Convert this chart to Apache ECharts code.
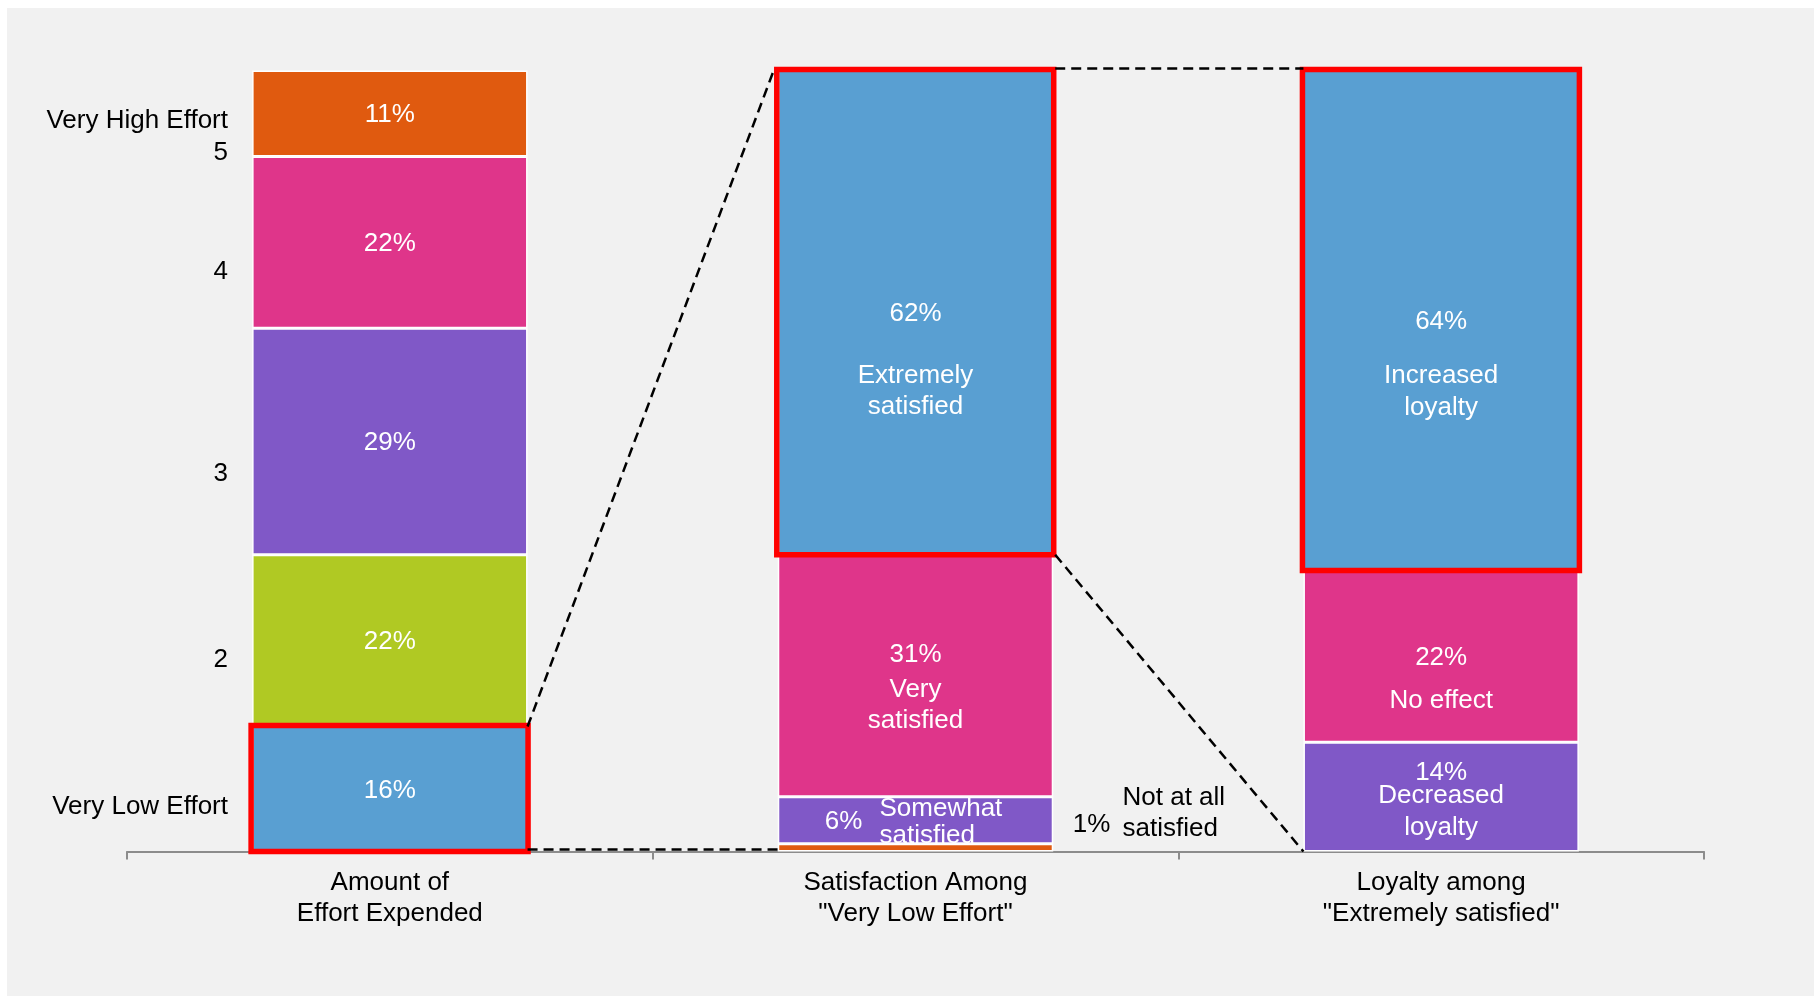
<!DOCTYPE html>
<html>
<head>
<meta charset="utf-8">
<script src="https://cdn.jsdelivr.net/npm/echarts@6/dist/echarts.min.js"></script>
<style>
  html, body { margin: 0; padding: 0; background: #ffffff; }
  #panel { position: absolute; left: 7px; top: 8px; right: 0; bottom: 0; background: #f1f1f1; }
  #chart { position: absolute; left: 0; top: 0; width: 1814px; height: 996px; }
</style>
</head>
<body>
<div id="panel"></div>
<div id="chart"></div>
<script>
// ---------- data ----------
const categories = ['Amount of\nEffort Expended', 'Satisfaction Among\n"Very Low Effort"', 'Loyalty among\n"Extremely satisfied"'];
// stacked bottom -> top
const effortValues = [16, 22, 29, 22, 11];          // Very Low Effort ... Very High Effort
const satisfactionValues = [1, 6, 31, 62];          // Not at all, Somewhat, Very, Extremely
const loyaltyValues = [14, 22, 64];                 // Decreased, No effect, Increased
const satisfactionNames = ['Not at all\nsatisfied', 'Somewhat\nsatisfied', 'Very\nsatisfied', 'Extremely\nsatisfied'];
const loyaltyNames = ['Decreased\nloyalty', 'No effect', 'Increased\nloyalty'];
const yTickValues = [5.7, 24.5, 48.4, 74.2, 89.5, 93.6];
const yTickLabels = ['Very Low Effort', '2', '3', '4', '5', 'Very High Effort'];

// ---------- styles ----------
const C = { blue: '#599fd2', green: '#b0c923', purple: '#8058c7', pink: '#df358a', orange: '#e05a0f' };
const effortColors = [C.blue, C.green, C.purple, C.pink, C.orange];
const satisfactionColors = [C.orange, C.purple, C.pink, C.blue];
const loyaltyColors = [C.purple, C.pink, C.blue];
const FONT = '"Liberation Sans", Arial, sans-serif';
const BAR_RATIO = 0.524;
const TXT_DY = 1.5;

const columns = [
  { values: effortValues, colors: effortColors, highlight: 0 },
  { values: satisfactionValues, colors: satisfactionColors, highlight: 3 },
  { values: loyaltyValues, colors: loyaltyColors, highlight: 2 }
];
// percent label offsets [col][level]
const pctLabelStyle = {
  '1-0': { offset: [176, -24], color: '#000' },
  '1-1': { offset: [-72, 0] },
  '1-2': { offset: [0, -22] },
  '2-0': { offset: [0, -26] }
};
// description label styles [col][level]
const descStyle = {
  '1-0': { dx: 207, dy: -36, align: 'left', lh: 31, color: '#000' },
  '1-1': { dx: -36, dy: 1, align: 'left', lh: 27, color: '#fff' },
  '1-2': { dx: 0, dy: 28, align: 'center', lh: 31, color: '#fff' },
  '1-3': { dx: 0, dy: 77, align: 'center', lh: 31, color: '#fff' },
  '2-0': { dx: 0, dy: 13, align: 'center', lh: 32, color: '#fff' },
  '2-1': { dx: 0, dy: 43, align: 'center', lh: 32, color: '#fff' },
  '2-2': { dx: 0, dy: 70, align: 'center', lh: 32, color: '#fff' }
};

const maxLevels = Math.max(effortValues.length, satisfactionValues.length, loyaltyValues.length);
const barSeries = [];
for (let lv = 0; lv < maxLevels; lv++) {
  const data = columns.map((col, ci) => {
    if (lv >= col.values.length) return '-';
    const v = col.values[lv];
    const ls = pctLabelStyle[ci + '-' + lv] || {};
    const off = ls.offset || [0, 0];
    return {
      value: v,
      itemStyle: { color: col.colors[lv], borderColor: '#ffffff', borderWidth: 1.5 },
      label: {
        show: true,
        position: 'inside',
        formatter: v + '%',
        color: ls.color || '#ffffff',
        offset: [off[0], off[1] + TXT_DY],
        fontSize: 26,
        fontFamily: FONT
      }
    };
  });
  barSeries.push({
    type: 'bar',
    stack: 'total',
    barWidth: (BAR_RATIO * 100) + '%',
    data: data,
    silent: true
  });
}

// highlighted segments: [cat, low, high]
const highlights = columns.map((col, ci) => {
  const low = col.values.slice(0, col.highlight).reduce((a, b) => a + b, 0);
  return [ci, low, low + col.values[col.highlight]];
});

// description annotations, anchored at segment middle
const annotations = [];
function addDesc(ci, values, names) {
  let cum = 0;
  values.forEach((v, i) => {
    const s = descStyle[ci + '-' + i];
    annotations.push({ cat: ci, mid: cum + v / 2, text: names[i], s: s });
    cum += v;
  });
}
addDesc(1, satisfactionValues, satisfactionNames);
addDesc(2, loyaltyValues, loyaltyNames);

// connector lines between columns: [fromCat, fromValue, toCat, toValue]
const sum = arr => arr.reduce((a, b) => a + b, 0);
const connectors = [
  [0, effortValues[0], 1, sum(satisfactionValues)],
  [0, 0, 1, 0],
  [1, sum(satisfactionValues), 2, sum(loyaltyValues)],
  [1, sum(satisfactionValues.slice(0, 3)), 2, 0]
];
// small pixel nudges per connector [dx1, dy1, dx2, dy2] (to meet red outlines)
const connectorNudge = [[0, 0, -3, -3], [0, -2, 0, -2], [2, -2, 0, -2], [2, 0, 0, 0]];

const option = {
  backgroundColor: 'transparent',
  animation: false,
  grid: { left: 127, right: 110, top: 70.6, bottom: 144.5, containLabel: false },
  xAxis: {
    type: 'category',
    data: categories,
    axisLine: { lineStyle: { color: '#8c8c8c', width: 2 } },
    axisTick: { show: true, length: 8, lineStyle: { color: '#8c8c8c', width: 2 } },
    axisLabel: { interval: 0, fontSize: 26, fontFamily: FONT, color: '#000', lineHeight: 31, margin: 16 },
    splitLine: { show: false }
  },
  yAxis: {
    type: 'value',
    min: 0,
    max: 100,
    offset: -109,
    axisLine: { show: false },
    axisTick: { show: false },
    splitLine: { show: false },
    axisLabel: {
      customValues: yTickValues,
      formatter: function (v) { const i = yTickValues.indexOf(v); return i >= 0 ? yTickLabels[i] : ''; },
      fontSize: 26, fontFamily: FONT, color: '#000', margin: 8
    }
  },
  series: barSeries.concat([
    {
      type: 'custom',
      z: 5,
      silent: true,
      data: highlights,
      encode: { x: 0, y: [1, 2] },
      renderItem: function (params, api) {
        const half = api.size([1, 0])[0] * BAR_RATIO / 2;
        const pl = api.coord([api.value(0), api.value(1)]);
        const ph = api.coord([api.value(0), api.value(2)]);
        return {
          type: 'rect',
          shape: { x: pl[0] - half - 1, y: ph[1] - 1, width: 2 * half + 1.5, height: pl[1] - ph[1] + 1 },
          style: { stroke: '#ff0000', lineWidth: 5.5, fill: null }
        };
      }
    },
    {
      type: 'custom',
      z: 6,
      silent: true,
      data: connectors,
      encode: { x: [0, 2], y: [1, 3] },
      renderItem: function (params, api) {
        const half = api.size([1, 0])[0] * BAR_RATIO / 2;
        const p1 = api.coord([api.value(0), api.value(1)]);
        const p2 = api.coord([api.value(2), api.value(3)]);
        const n = connectorNudge[params.dataIndex];
        return {
          type: 'line',
          shape: { x1: p1[0] + half + n[0], y1: p1[1] + n[1], x2: p2[0] - half + n[2], y2: p2[1] + n[3] },
          style: { stroke: '#000', lineWidth: 2.5, lineDash: [10, 6], fill: null }
        };
      }
    },
    {
      type: 'custom',
      z: 7,
      silent: true,
      data: annotations.map(a => [a.cat, a.mid]),
      renderItem: function (params, api) {
        const a = annotations[params.dataIndex];
        const p = api.coord([api.value(0), api.value(1)]);
        return {
          type: 'text',
          x: p[0] + a.s.dx,
          y: p[1] + a.s.dy + TXT_DY,
          style: {
            text: a.text,
            fill: a.s.color,
            fontSize: 26,
            fontFamily: FONT,
            align: a.s.align,
            verticalAlign: 'middle',
            lineHeight: a.s.lh
          }
        };
      }
    }
  ])
};

const chart = echarts.init(document.getElementById('chart'), null, { renderer: 'canvas' });
chart.setOption(option);
</script>
</body>
</html>
